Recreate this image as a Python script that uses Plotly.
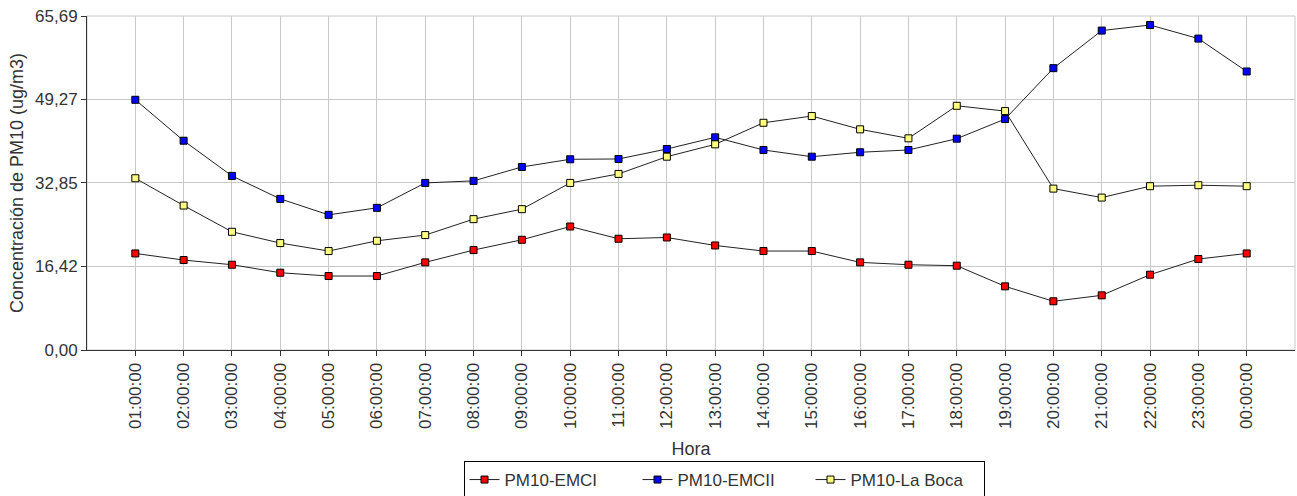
import plotly.graph_objects as go

horas = ["01:00:00", "02:00:00", "03:00:00", "04:00:00", "05:00:00", "06:00:00",
         "07:00:00", "08:00:00", "09:00:00", "10:00:00", "11:00:00", "12:00:00",
         "13:00:00", "14:00:00", "15:00:00", "16:00:00", "17:00:00", "18:00:00",
         "19:00:00", "20:00:00", "21:00:00", "22:00:00", "23:00:00", "00:00:00"]

pm10_emci = [18.99, 17.69, 16.77, 15.20, 14.55, 14.55, 17.23, 19.65, 21.68, 24.29,
             21.88, 22.13, 20.56, 19.46, 19.46, 17.23, 16.77, 16.58, 12.52, 9.58,
             10.75, 14.81, 17.89, 18.99]
pm10_emcii = [49.21, 41.16, 34.24, 29.72, 26.58, 27.96, 32.86, 33.26, 36.00, 37.51,
              37.57, 39.53, 41.83, 39.34, 38.02, 38.89, 39.34, 41.56, 45.42, 55.43,
              62.82, 63.92, 61.25, 54.78]
pm10_laboca = [33.78, 28.41, 23.25, 21.03, 19.46, 21.48, 22.60, 25.74, 27.70, 32.86,
               34.63, 38.02, 40.45, 44.69, 46.01, 43.40, 41.63, 48.03, 46.99, 31.74,
               29.98, 32.22, 32.41, 32.22]

y_ticks = [0, 16.42, 32.85, 49.27, 65.69]

series = [("PM10-EMCI", pm10_emci, "#ff0000"),
          ("PM10-EMCII", pm10_emcii, "#0000ff"),
          ("PM10-La Boca", pm10_laboca, "#ffff80")]

FONT = "Liberation Sans, Arial, sans-serif"
TXT = "#333333"

W, H = 1297, 496

fig = go.Figure()
for name, vals, col in series:
    fig.add_trace(go.Scatter(
        x=horas, y=vals, name=name, mode="lines+markers",
        line=dict(color="#222222", width=1),
        marker=dict(symbol="square", size=7, color=col,
                    line=dict(color="#000000", width=1)),
    ))

fig.add_shape(type="rect", xref="paper", yref="paper", x0=0, y0=0, x1=1, y1=1,
              line=dict(color="#c8c8c8", width=1), layer="below")

fig.update_layout(
    width=W, height=H,
    margin=dict(l=87, r=2, t=16, b=146, autoexpand=False),
    paper_bgcolor="white", plot_bgcolor="white",
    separators=",.",
    font=dict(family=FONT, size=17, color=TXT),
    showlegend=True,
    legend=dict(orientation="h", xref="container", yref="container",
                x=724 / W, xanchor="center", y=1 - 461 / H, yanchor="top",
                bordercolor="#000000", borderwidth=1, bgcolor="white",
                font=dict(family=FONT, size=17, color=TXT),
                itemwidth=30, tracegroupgap=0,
                entrywidth=128, entrywidthmode="pixels"),
    xaxis=dict(
        type="category", categoryorder="array", categoryarray=horas,
        range=[-1, 24], automargin=False,
        showgrid=True, gridcolor="#c8c8c8", gridwidth=1,
        showline=True, linecolor="#333333", linewidth=1,
        ticks="outside", ticklen=5, tickcolor="#333333",
        tickangle=-90, tickfont=dict(family=FONT, size=17, color=TXT),
        title=dict(text="Hora", font=dict(family=FONT, size=18, color=TXT), standoff=14),
        zeroline=False,
    ),
    yaxis=dict(
        range=[0, 65.69], tickvals=y_ticks, tickformat=".2f", automargin=False,
        showgrid=True, gridcolor="#c8c8c8", gridwidth=1,
        showline=True, linecolor="#333333", linewidth=1,
        ticks="outside", ticklen=5, tickcolor="#333333",
        ticklabeloverflow="allow",
        tickfont=dict(family=FONT, size=17, color=TXT),
        title=dict(text="Concentración de PM10 (ug/m3)",
                   font=dict(family=FONT, size=18, color=TXT), standoff=6),
        zeroline=False,
    ),
)

# remove the browser's default 8px body margin so the figure fills the window
fig.write_html("out.html",
               config={"displayModeBar": False},
               post_script="document.body.style.margin='0';document.body.style.padding='0';")
